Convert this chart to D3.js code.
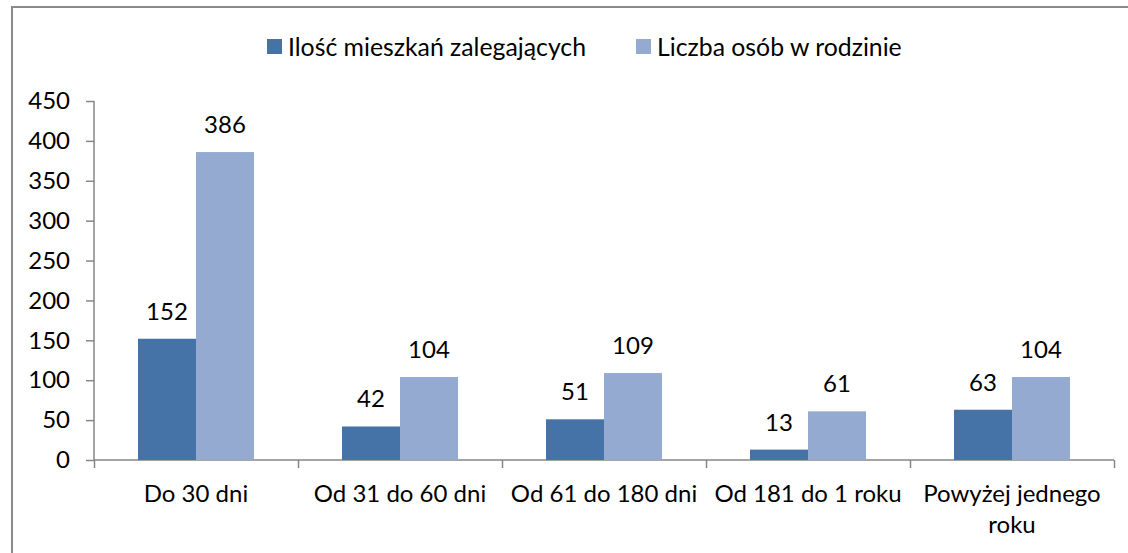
<!DOCTYPE html>
<html>
<head>
<meta charset="utf-8">
<script src="https://cdn.jsdelivr.net/npm/d3@7"></script>
<style>
  body { margin: 0; background: #fff; }
  text { font-family: Lato, "Open Sans", sans-serif; fill: #000; }
</style>
</head>
<body>
<script>
// data
var categories = ['Do 30 dni', 'Od 31 do 60 dni', 'Od 61 do 180 dni', 'Od 181 do 1 roku', 'Powyżej jednego roku'];
var seriesNames = ['Ilość mieszkań zalegających', 'Liczba osób w rodzinie'];
var flats = [152, 42, 51, 13, 63];
var persons = [386, 104, 109, 61, 104];
var yTicks = [0, 50, 100, 150, 200, 250, 300, 350, 400, 450];
var colors = ['#4572A7', '#95AAD1'];

var width = 1128, height = 553;
var fontSize = 24;

var svg = d3.select('body').append('svg')
  .attr('width', width)
  .attr('height', height);

// frame of the chart
svg.append('rect')
  .attr('x', 12).attr('y', 7)
  .attr('width', 1140).attr('height', 600)
  .attr('fill', 'none')
  .attr('stroke', '#8a8a8a')
  .attr('stroke-width', 2);

var plotL = 94, plotR = 1114, plotT = 101, plotB = 460;

var x = d3.scaleBand().domain(categories).range([plotL, plotR]).padding(0);
var bw = x.bandwidth();
var x1 = d3.scaleBand().domain(seriesNames).range([bw * 44 / 204, bw * 160 / 204]).padding(0);
var y = d3.scaleLinear().domain([0, 450]).range([plotB, plotT]);

// y axis
var yAxis = svg.append('g')
  .attr('transform', 'translate(' + plotL + ',0)')
  .call(d3.axisLeft(y).tickValues(yTicks).tickSize(8).tickPadding(16));
yAxis.selectAll('text').style('font-size', fontSize + 'px').style('font-family', 'Lato, sans-serif').attr('fill', '#000');
yAxis.selectAll('line, path').attr('stroke', '#868686').attr('stroke-width', 1.5);
yAxis.select('path').attr('d', 'M0,' + plotT + 'V' + plotB);

// x axis (ticks at category edges)
var xb = d3.scaleLinear().domain([0, categories.length]).range([plotL, plotR]);
var xAxis = svg.append('g')
  .attr('transform', 'translate(0,' + plotB + ')')
  .call(d3.axisBottom(xb).tickValues(d3.range(categories.length + 1)).tickFormat('').tickSize(8));
xAxis.selectAll('line, path').attr('stroke', '#868686').attr('stroke-width', 1.5);
xAxis.select('path').attr('d', 'M' + plotL + ',0H' + plotR);

// bars
var rows = categories.map(function (c, i) {
  return { cat: c, vals: [flats[i], persons[i]] };
});

var groups = svg.selectAll('g.grp')
  .data(rows)
  .enter().append('g')
  .attr('class', 'grp')
  .attr('transform', function (d) { return 'translate(' + x(d.cat) + ',0)'; });

groups.selectAll('rect')
  .data(function (d) { return d.vals.map(function (v, j) { return { s: seriesNames[j], v: v, j: j }; }); })
  .enter().append('rect')
  .attr('x', function (d) { return x1(d.s); })
  .attr('y', function (d) { return y(d.v); })
  .attr('width', x1.bandwidth())
  .attr('height', function (d) { return plotB - y(d.v); })
  .attr('fill', function (d) { return colors[d.j]; });

groups.selectAll('text.val')
  .data(function (d) { return d.vals.map(function (v, j) { return { s: seriesNames[j], v: v }; }); })
  .enter().append('text')
  .attr('class', 'val')
  .attr('x', function (d) { return x1(d.s) + x1.bandwidth() / 2; })
  .attr('y', function (d) { return y(d.v) - 19; })
  .attr('text-anchor', 'middle')
  .style('font-size', fontSize + 'px')
  .text(function (d) { return d.v; });

// category labels, wrapped when too long
svg.selectAll('text.cat')
  .data(categories)
  .enter().append('text')
  .attr('class', 'cat')
  .attr('x', function (d) { return x(d) + bw / 2; })
  .attr('y', 502)
  .attr('text-anchor', 'middle')
  .style('font-size', fontSize + 'px')
  .each(function (d) {
    var el = d3.select(this);
    el.text(d);
    if (this.getComputedTextLength() > bw - 8) {
      var words = d.split(' ');
      var last = words.pop();
      el.text(null);
      el.append('tspan').attr('x', x(d) + bw / 2).text(words.join(' '));
      el.append('tspan').attr('x', x(d) + bw / 2).attr('dy', 31).text(last);
    }
  });

// legend
var legend = svg.append('g');
var lx = 267;
seriesNames.forEach(function (name, i) {
  legend.append('rect')
    .attr('x', lx).attr('y', 39)
    .attr('width', 15).attr('height', 15)
    .attr('fill', colors[i]);
  var t = legend.append('text')
    .attr('x', lx + 21).attr('y', 56)
    .style('font-size', '24.8px')
    .text(name);
  lx += 21 + t.node().getComputedTextLength() + 50;
});
</script>
</body>
</html>
